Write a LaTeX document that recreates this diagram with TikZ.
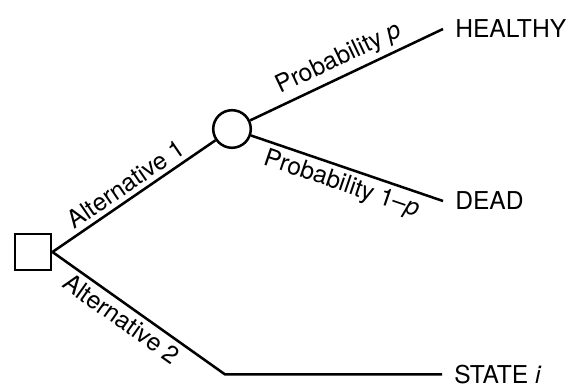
\documentclass[tikz,border=0pt]{standalone}
\usepackage{fontspec}
\setmainfont{TeX Gyre Heros}

\begin{document}
\begin{tikzpicture}[font=\fontsize{17.5}{20}\selectfont, dec/.style={draw, line width=1.8pt, rectangle, minimum size=0.91cm, inner sep=0pt},
  ch/.style={draw, line width=1.8pt, circle, minimum size=0.94cm, inner sep=0pt},
  br/.style={line width=1.8pt}, lab/.style={sloped, inner sep=3pt},
  res/.style={anchor=west, inner xsep=0.3cm, inner ysep=0pt}]
\useasboundingbox (0,0) rectangle (14.2,9.6);
\node[dec] (d) at (0.825,3.3) {}; \node[ch] (c) at (5.8,6.375) {};
\node[res] (hl) at (11.075,8.875) {HEALTHY}; \node[res] (dl) at (11.075,4.575) {DEAD};
\coordinate (k) at (5.625,0.24); \node[res] (sl) at (11.05,0.24) {STATE \textit{i}};
\draw[br] (d.east) -- node[lab, above]{Alternative 1} (c);
\draw[br] (c) -- node[lab, above]{Probability \textit{p}} (hl.west);
\draw[br] (c) -- node[lab, below]{Probability 1--\textit{p}} (dl.west);
\draw[br] (d.east) -- node[lab, below, pos=0.45]{Alternative 2} (k) -- (sl.west);
\end{tikzpicture}
\end{document}
